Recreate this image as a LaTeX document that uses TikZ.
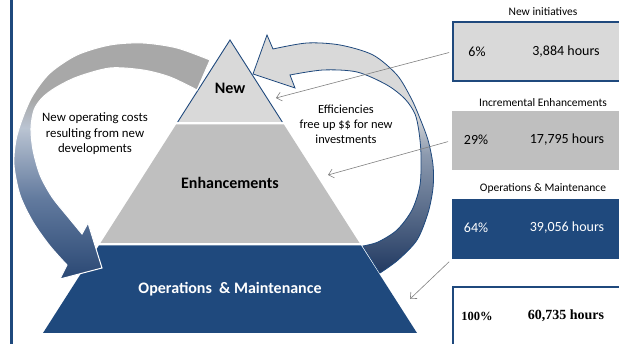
\documentclass[tikz,border=0pt]{standalone}
\usepackage{fontspec}
\setmainfont{Carlito}
\newfontfamily\timesfont{Liberation Serif}
\usetikzlibrary{arrows.meta}
\definecolor{opsblue}{RGB}{31,73,125}
\definecolor{newgray}{RGB}{217,217,217}
\definecolor{enhgray}{RGB}{191,191,191}
\definecolor{pointgray}{RGB}{128,128,128}
\definecolor{costtop}{RGB}{168,168,168}
\definecolor{costmid}{RGB}{186,196,210}
\definecolor{costlow}{RGB}{98,122,158}
\definecolor{costbot}{RGB}{42,72,116}
\definecolor{effmid}{RGB}{140,154,175}
\definecolor{effbot}{RGB}{34,58,98}
\pgfdeclareverticalshading{effshade}{100bp}{color(0bp)=(effbot); color(25bp)=(effbot); color(50bp)=(effmid); color(58bp)=(newgray); color(100bp)=(newgray)}
\pgfdeclareverticalshading{costshade}{100bp}{color(0bp)=(costbot); color(25bp)=(costbot); color(42bp)=(costlow); color(57bp)=(costmid); color(63bp)=(costtop); color(100bp)=(costtop)}
\tikzset{
  level/.style={font=\fontsize{16}{18}\selectfont\bfseries},
  remark/.style={align=center,font=\fontsize{12.8}{15.5}\selectfont},
  boxtitle/.style={font=\fontsize{11.5}{13}\selectfont},
  figure/.style={font=\fontsize{14}{16}\selectfont},
  countbox/.style={minimum width=172pt,inner sep=0pt,outer sep=0pt},
  pointer/.style={pointgray,line width=0.6pt,shorten <=4pt,-{Straight Barb[length=5pt,width=9pt]}}
}
\begin{document}
\begin{tikzpicture}[x=1pt,y=-1pt]
  \useasboundingbox (0,0) rectangle (619,344);
  \clip (0,0) rectangle (619,344);
  \draw[opsblue,line width=2.5pt] (11.3,0) -- (11.3,344);
  % efficiencies arrow (behind the pyramid)
  \path[shading=effshade,draw=opsblue,line width=0.8pt]
    (253,74) -- (267,35) -- (273,49)
    -- plot[smooth] coordinates {(273,49) (307,43) (340,45) (373,55) (397,75) (411,98) (419,116) (428,140) (433,165) (433,188) (428,213) (417,240) (398,260) (380,273)}
    -- (363,246)
    -- plot[smooth] coordinates {(363,246) (378,242) (397,230) (412,210) (420,185) (421,155) (419,132) (415,114) (405,99) (387,85) (357,72) (323,70) (290,75)}
    -- (295,88) -- cycle;
  % pyramid levels
  \fill[opsblue] (98.9,245.5) -- (361.1,245.5) -- (417,333) -- (43,333) -- cycle;
  \fill[enhgray] (176.1,124.5) -- (283.9,124.5) -- (359.5,243) -- (100.5,243) -- cycle;
  \fill[newgray] (230,40) -- (282.3,122) -- (177.7,122) -- cycle;
  \draw[opsblue,line width=0.9pt] (177.7,122) -- (230,40) -- (282.3,122);
  \node[level] (newlbl) at (230,88) {New};
  \node[level] (enhlbl) at (230,183) {Enhancements};
  \node[level,white] (opslbl) at (230,289) {Operations\ \ \& Maintenance};
  % new operating costs arrow
  \path[shading=costshade,draw=white,line width=1pt]
    plot[smooth] coordinates {(210,60) (177,48) (143,43) (110,45) (77,55) (50,73) (33,95) (23,117) (16,140) (14,165) (20,195) (33,222) (50,246) (67,265)}
    -- (60,279) -- (102,268) -- (88,223) -- (82,234)
    -- plot[smooth] coordinates {(82,234) (68,217) (52,197) (40,175) (33,150) (31,128) (34,110) (42,98) (55,88) (77,77) (110,68) (143,70) (170,77) (197,90)}
    -- cycle;
  \node[remark] (costtxt) at (95,134) {New operating costs\\resulting from new\\developments};
  \node[remark,font=\fontsize{12.4}{15}\selectfont] (efftxt) at (346,124) {Efficiencies\\free up \$\$ for new\\investments};
  % hour boxes
  \node[countbox,minimum height=59pt,fill=newgray,draw=opsblue,line width=2pt] (newbox) at (539,51.5) {};
  \node[countbox,minimum height=59pt,fill=enhgray] (enhbox) at (538,140.5) {};
  \node[countbox,minimum height=60pt,fill=opsblue] (opsbox) at (538,229) {};
  \node[countbox,minimum height=63pt,fill=white,draw=opsblue,line width=2pt] (totbox) at (539,318.5) {};
  \node[boxtitle] (newttl) at (543,12) {New initiatives};
  \node[boxtitle] (enhttl) at (543,103) {Incremental Enhancements};
  \node[boxtitle] (opsttl) at (543,188) {Operations \& Maintenance};
  \node[figure] (newpct) at (477,52) {6\%};
  \node[figure] (newhrs) at (566,52) {3,884 hours};
  \node[figure] (enhpct) at (476,140) {29\%};
  \node[figure] (enhhrs) at (567,140) {17,795 hours};
  \node[figure,white] (opspct) at (476,228) {64\%};
  \node[figure,white] (opshrs) at (567,228) {39,056 hours};
  \node[font=\timesfont\fontsize{12.5}{14}\selectfont\bfseries] (totpct) at (477,316) {100\%};
  \node[font=\timesfont\fontsize{14}{16}\selectfont\bfseries] (tothrs) at (566,316) {60,735 hours};
  % pointers to the levels
  \coordinate (newtip) at (276,98);
  \coordinate (enhtip) at (328,175);
  \coordinate (opstip) at (410,299);
  \draw[pointer] (newbox.west) -- (newtip);
  \draw[pointer] (enhbox.west) -- (enhtip);
  \draw[pointer] (opsbox.south west) -- (opstip);
\end{tikzpicture}
\end{document}
